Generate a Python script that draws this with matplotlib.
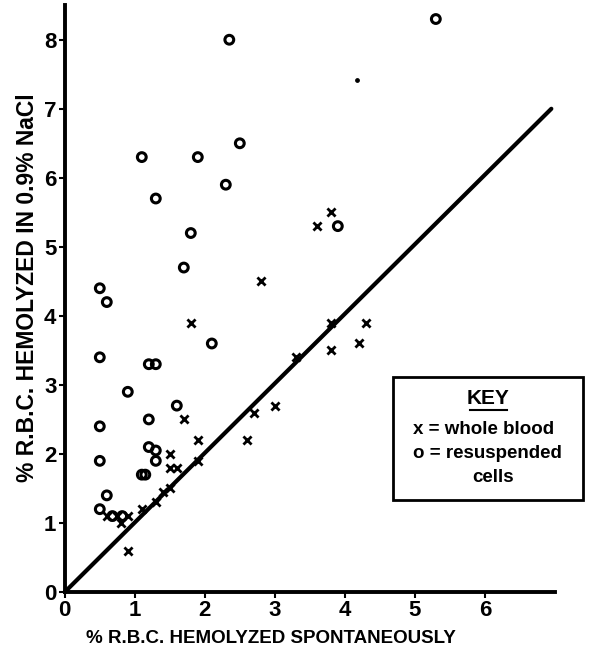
import matplotlib
matplotlib.use("Agg")
import matplotlib.pyplot as plt
from matplotlib.lines import Line2D

plt.rcParams['font.family'] = ['Liberation Sans', 'DejaVu Sans']
plt.rcParams['font.weight'] = 'bold'

# whole blood (x markers)
wb_x = [2.8, 1.8, 3.8, 3.6, 3.8, 4.3, 4.2, 3.8, 3.3, 3.0, 2.7, 2.6, 1.7, 1.9,
        1.5, 1.9, 1.5, 1.6, 1.5, 1.4, 1.3, 1.1, 0.6, 0.75, 0.9, 0.8, 0.9]
wb_y = [4.5, 3.9, 5.5, 5.3, 3.9, 3.9, 3.6, 3.5, 3.4, 2.7, 2.6, 2.2, 2.5, 2.2,
        2.0, 1.9, 1.8, 1.8, 1.5, 1.45, 1.3, 1.2, 1.1, 1.1, 1.1, 1.0, 0.6]

# resuspended cells (o markers)
rc_x = [2.35, 5.3, 1.1, 1.9, 2.5, 2.3, 1.3, 1.8, 1.7, 0.5, 0.6, 3.9, 2.1, 0.5,
        1.2, 1.3, 0.9, 1.6, 1.2, 0.5, 1.2, 1.3, 1.3, 0.5, 1.1, 1.15, 0.6, 0.5,
        0.68, 0.82]
rc_y = [8.0, 8.3, 6.3, 6.3, 6.5, 5.9, 5.7, 5.2, 4.7, 4.4, 4.2, 5.3, 3.6, 3.4,
        3.3, 3.3, 2.9, 2.7, 2.5, 2.4, 2.1, 2.05, 1.9, 1.9, 1.7, 1.7, 1.4, 1.2,
        1.1, 1.1]

# small ink dot near the top
dot_x = [4.17]
dot_y = [7.42]

# line of identity
line_x = [0, 6.95]
line_y = [0, 7.0]

xticks = [0, 1, 2, 3, 4, 5, 6]
yticks = [0, 1, 2, 3, 4, 5, 6, 7, 8]

fig = plt.figure(figsize=(5.89, 6.52), dpi=100)
ax = fig.add_axes([0.110, 0.092, 0.832, 0.900])

ax.plot(line_x, line_y, color='black', lw=3, solid_capstyle='round', zorder=2)
ax.scatter(wb_x, wb_y, marker='x', s=34, color='black', linewidths=2.0, zorder=3)
ax.scatter(rc_x, rc_y, marker='o', s=40, facecolors='none', edgecolors='black',
           linewidths=2.2, zorder=3)
ax.scatter(dot_x, dot_y, marker='o', s=6, color='black', zorder=3)

ax.set_xlim(0, 7)
ax.set_ylim(0, 8.5)
ax.set_xticks(xticks)
ax.set_yticks(yticks)
ax.tick_params(direction='out', length=4, width=1.5, labelsize=16, pad=2)
for lab in ax.get_xticklabels() + ax.get_yticklabels():
    lab.set_fontweight('bold')

for s in ['top', 'right']:
    ax.spines[s].set_visible(False)
for s in ['left', 'bottom']:
    ax.spines[s].set_linewidth(2.8)

ax.set_xlabel('% R.B.C. HEMOLYZED SPONTANEOUSLY', fontsize=13.5, fontweight='bold')
ax.set_ylabel('% R.B.C. HEMOLYZED IN 0.9% NaCl', fontsize=16.5, fontweight='bold')
ax.xaxis.set_label_coords(0.42, -0.065)
ax.yaxis.set_label_coords(-0.052, 0.518)

# key box
kx0, ky0, kx1, ky1 = 392.7 / 589, 1 - 500 / 652, 583.3 / 589, 1 - 377.3 / 652
fig.patches.append(plt.Rectangle((kx0, ky0), kx1 - kx0, ky1 - ky0, transform=fig.transFigure,
                                 fill=False, lw=2, edgecolor='black'))
fig.text(488 / 589, 1 - 399 / 652, 'KEY', ha='center', va='center', fontsize=15,
         fontweight='bold')
fig.lines.append(Line2D([470 / 589, 507 / 589], [1 - 410 / 652, 1 - 410 / 652],
                        transform=fig.transFigure, color='black', lw=1.5))
fig.text(413 / 589, 1 - 430 / 652, 'x = whole blood', ha='left', va='center',
         fontsize=13.5, fontweight='bold')
fig.text(413 / 589, 1 - 454 / 652, 'o = resuspended', ha='left', va='center',
         fontsize=13.5, fontweight='bold')
fig.text(493 / 589, 1 - 477 / 652, 'cells', ha='center', va='center', fontsize=13.5,
         fontweight='bold')

fig.savefig('out.png', dpi=100)
